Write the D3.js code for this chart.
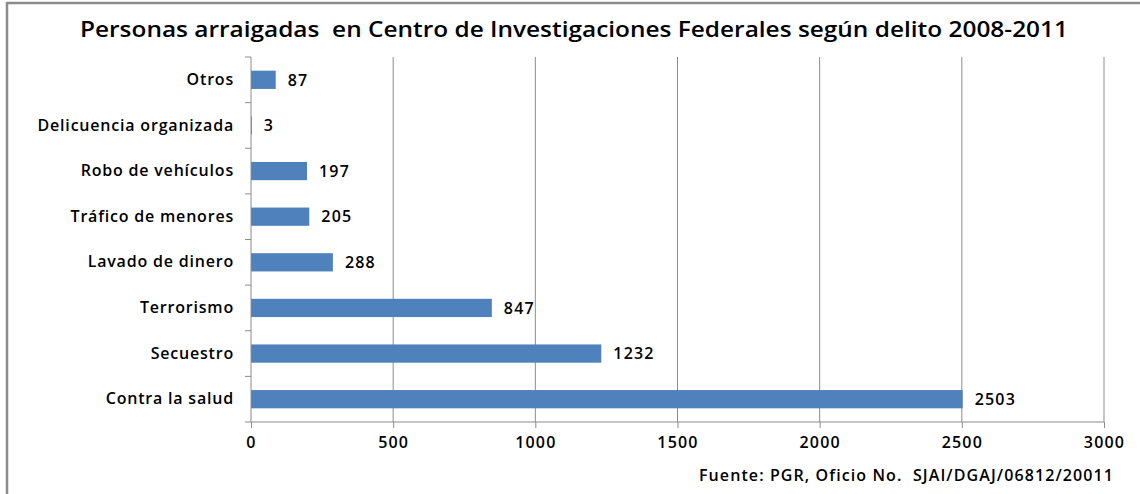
<!DOCTYPE html>
<head>
  <meta charset="utf-8">
  <script src="https://d3js.org/d3.v7.min.js"></script>
  <style>
    body { margin: 0; background: #fff; }
    text { font-family: "Open Sans", sans-serif; fill: #000; }
  </style>
</head>
<body>
  <svg width="1140" height="494"></svg>
  <script>

  // data, top to bottom
  var categories = ["Otros", "Delicuencia organizada", "Robo de vehículos", "Tráfico de menores",
    "Lavado de dinero", "Terrorismo", "Secuestro", "Contra la salud"];
  var values = [87, 3, 197, 205, 288, 847, 1232, 2503];
  var xTicks = [0, 500, 1000, 1500, 2000, 2500, 3000];

  var svg = d3.select("svg");

  var margin = {left: 251, right: 36, top: 57, bottom: 72};
  var width = 1140, height = 494;

  var x = d3.scaleLinear().domain([0, 3000]).range([margin.left, width - margin.right]);
  var y = d3.scaleBand().domain(categories).range([margin.top, height - margin.bottom]).paddingInner(0.6).paddingOuter(0.3);
  var yb = d3.scaleBand().domain(categories).range([margin.top, height - margin.bottom]);

  // outer frame
  svg.append("path")
    .attr("d", "M7,494 L7,3 L1140,3")
    .attr("fill", "none")
    .attr("stroke", "#8c8c8c")
    .attr("stroke-width", 2.5);

  // title
  svg.append("text")
    .attr("x", 574)
    .attr("y", 37)
    .attr("text-anchor", "middle")
    .attr("font-size", 21)
    .attr("font-weight", 600)
    .attr("xml:space", "preserve")
    .attr("textLength", 988)
    .attr("lengthAdjust", "spacingAndGlyphs")
    .text("Personas arraigadas  en Centro de Investigaciones Federales según delito 2008-2011");

  // gridlines
  svg.append("g")
    .selectAll("line")
    .data(xTicks.slice(1))
    .enter().append("line")
    .attr("x1", function(d) { return x(d); })
    .attr("x2", function(d) { return x(d); })
    .attr("y1", margin.top)
    .attr("y2", height - margin.bottom)
    .attr("stroke", "#8c8c8c")
    .attr("stroke-width", 1);

  // bars
  svg.append("g")
    .selectAll("rect")
    .data(values)
    .enter().append("rect")
    .attr("x", x(0))
    .attr("y", function(d, i) { return y(categories[i]); })
    .attr("width", function(d) { return x(d) - x(0); })
    .attr("height", y.bandwidth())
    .attr("fill", "#4f81bd");

  // value labels
  svg.append("g")
    .selectAll("text")
    .data(values)
    .enter().append("text")
    .attr("x", function(d) { return x(d) + 12; })
    .attr("y", function(d, i) { return y(categories[i]) + y.bandwidth() / 2; })
    .attr("dy", "0.36em")
    .attr("font-size", 16)
    .attr("font-weight", 600)
    .attr("letter-spacing", 1.2)
    .text(function(d) { return d; });

  // x axis
  var xAxis = svg.append("g")
    .attr("transform", "translate(0," + (height - margin.bottom) + ")")
    .call(d3.axisBottom(x).tickValues(xTicks).tickSize(6).tickPadding(9).tickFormat(d3.format("d")));
  xAxis.select(".domain").attr("stroke", "#8c8c8c").attr("d", "M" + (x(0) - 6) + ",0H" + x(3000));
  xAxis.selectAll(".tick line").attr("stroke", "#8c8c8c");
  xAxis.selectAll("text").attr("font-size", 16).attr("font-weight", 600).attr("letter-spacing", 1.2)
    .attr("font-family", "'Open Sans', sans-serif").attr("fill", "#000");

  // y axis
  var yAxis = svg.append("g")
    .attr("transform", "translate(" + x(0) + ",0)")
    .call(d3.axisLeft(yb).tickSize(0).tickPadding(17));
  yAxis.select(".domain").attr("stroke", "#8c8c8c").attr("d", "M0," + margin.top + "V" + (height - margin.bottom));
  yAxis.selectAll("text").attr("font-size", 16).attr("font-weight", 600).attr("letter-spacing", 0.8)
    .attr("font-family", "'Open Sans', sans-serif").attr("fill", "#000");

  // category separators
  svg.append("g")
    .selectAll("line")
    .data(categories)
    .enter().append("line")
    .attr("x1", x(0) - 6)
    .attr("x2", x(0))
    .attr("y1", function(d) { return yb(d); })
    .attr("y2", function(d) { return yb(d); })
    .attr("stroke", "#8c8c8c");

  // source note
  svg.append("text")
    .attr("x", 1114)
    .attr("y", 481)
    .attr("text-anchor", "end")
    .attr("font-size", 16)
    .attr("font-weight", 600)
    .attr("letter-spacing", 1.1)
    .attr("xml:space", "preserve")
    .text("Fuente: PGR, Oficio No.  SJAI/DGAJ/06812/20011");

  </script>
</body>
